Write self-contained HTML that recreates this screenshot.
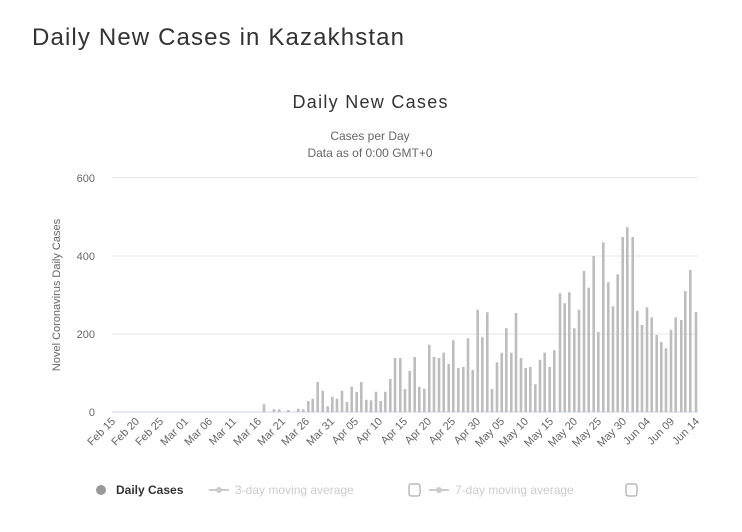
<!DOCTYPE html>
<html><head><meta charset="utf-8"><style>
body{margin:0;background:#fff;width:742px;height:527px;overflow:hidden}
svg{font-family:"Liberation Sans",sans-serif}
</style></head><body>
<svg width="742" height="527" viewBox="0 0 742 527" xmlns="http://www.w3.org/2000/svg">
<text x="32" y="45" font-size="24" fill="#333" textLength="372">Daily New Cases in Kazakhstan</text>
<text x="370" y="108" font-size="18" fill="#333" text-anchor="middle" textLength="155">Daily New Cases</text>
<text x="370" y="140" font-size="12" fill="#666" text-anchor="middle">Cases per Day</text>
<text x="370" y="157" font-size="12" fill="#666" text-anchor="middle">Data as of 0:00 GMT+0</text>
<g stroke="#e6e6e6" stroke-width="1">
<line x1="112" y1="177.5" x2="698" y2="177.5"/>
<line x1="112" y1="256" x2="698" y2="256"/>
<line x1="112" y1="334" x2="698" y2="334"/>
</g>
<line x1="112" y1="412" x2="698" y2="412" stroke="#ccd6eb" stroke-width="1"/>
<g font-size="11" fill="#666" text-anchor="end">
<text x="95" y="182">600</text><text x="95" y="260">400</text><text x="95" y="338">200</text><text x="95" y="416">0</text>
</g>
<text transform="translate(60,295) rotate(-90)" font-size="11" fill="#666" text-anchor="middle">Novel Coronavirus Daily Cases</text>
<path stroke="#bdbdbd" stroke-width="2.6" fill="none" d="
M264 412V404.3M274 412V409.3M279.3 412V409.3M288.3 412V410M298.3 412V408.7M303.3 412V409.3M308.3 412V401M312.7 412V398.7M317.7 412V382M322.7 412V390.7M327.7 412V406.3M332.3 412V396.7M337 412V398.7M342 412V390.7M347 412V402M351.7 412V386.7M356.7 412V392M361.3 412V382M366.3 412V399.7M371 412V400.3M376 412V391.7M380.7 412V401M385.3 412V391.7M390.3 412V379M395 412V358M400.3 412V358M405 412V389M409.7 412V371M414.7 412V357M419.3 412V386.7M424.3 412V388.7M429.3 412V344.7M434 412V357M439 412V358M443.7 412V352.7M448.7 412V364M453.3 412V340.3M458.3 412V368M463.3 412V367M468 412V338.3M472.7 412V370M477.7 412V309.7M482.3 412V337.3M487.3 412V312.3M492 412V389M497 412V362.3M501.7 412V352.7M506.3 412V328.3M511.3 412V352.7M516 412V313M521 412V358M525.7 412V368M530.3 412V367M535.3 412V384.3M540 412V359.7M544.7 412V352.7M549.7 412V367M554.3 412V350.3M560 412V293.3M564.7 412V303.3M569.3 412V292.3M574.3 412V328.3M579 412V309.7M584 412V271M588.7 412V287.7M593.7 412V256M598.3 412V332M603.3 412V242.3M608.3 412V282.3M613 412V306.3M617.7 412V274.3M622.7 412V237M627.3 412V227.3M632.7 412V237M637.3 412V310.7M642 412V325M647 412V307.3M651.7 412V317.3M656.7 412V335M661.3 412V342M666 412V348.3M671 412V329.7M675.7 412V317.3M681.3 412V320M685.3 412V291M690.3 412V270M696 412V312"/>
<g font-size="11" fill="#666" text-anchor="end">
<text transform="translate(116,422) rotate(-45)">Feb 15</text>
<text transform="translate(140,422) rotate(-45)">Feb 20</text>
<text transform="translate(164,422) rotate(-45)">Feb 25</text>
<text transform="translate(189,422) rotate(-45)">Mar 01</text>
<text transform="translate(213,422) rotate(-45)">Mar 06</text>
<text transform="translate(237,422) rotate(-45)">Mar 11</text>
<text transform="translate(262,422) rotate(-45)">Mar 16</text>
<text transform="translate(286,422) rotate(-45)">Mar 21</text>
<text transform="translate(310,422) rotate(-45)">Mar 26</text>
<text transform="translate(335,422) rotate(-45)">Mar 31</text>
<text transform="translate(359,422) rotate(-45)">Apr 05</text>
<text transform="translate(383,422) rotate(-45)">Apr 10</text>
<text transform="translate(408,422) rotate(-45)">Apr 15</text>
<text transform="translate(432,422) rotate(-45)">Apr 20</text>
<text transform="translate(456,422) rotate(-45)">Apr 25</text>
<text transform="translate(481,422) rotate(-45)">Apr 30</text>
<text transform="translate(505,422) rotate(-45)">May 05</text>
<text transform="translate(529,422) rotate(-45)">May 10</text>
<text transform="translate(554,422) rotate(-45)">May 15</text>
<text transform="translate(578,422) rotate(-45)">May 20</text>
<text transform="translate(602,422) rotate(-45)">May 25</text>
<text transform="translate(627,422) rotate(-45)">May 30</text>
<text transform="translate(651,422) rotate(-45)">Jun 04</text>
<text transform="translate(675,422) rotate(-45)">Jun 09</text>
<text transform="translate(700,422) rotate(-45)">Jun 14</text>
</g>
<circle cx="101" cy="490" r="5" fill="#999"/>
<text x="116" y="494" font-size="12" font-weight="bold" fill="#333">Daily Cases</text>
<line x1="209" y1="490" x2="229" y2="490" stroke="#ccc" stroke-width="2"/>
<circle cx="219" cy="490" r="3" fill="#ccc"/>
<text x="235" y="494" font-size="12" fill="#ccc">3-day moving average</text>
<rect x="409" y="484" width="11" height="12" rx="2" fill="none" stroke="#999"/>
<line x1="429" y1="490" x2="449" y2="490" stroke="#ccc" stroke-width="2"/>
<circle cx="439" cy="490" r="3" fill="#ccc"/>
<text x="455" y="494" font-size="12" fill="#ccc">7-day moving average</text>
<rect x="626" y="484" width="11" height="12" rx="2" fill="none" stroke="#999"/>
</svg>
</body></html>
